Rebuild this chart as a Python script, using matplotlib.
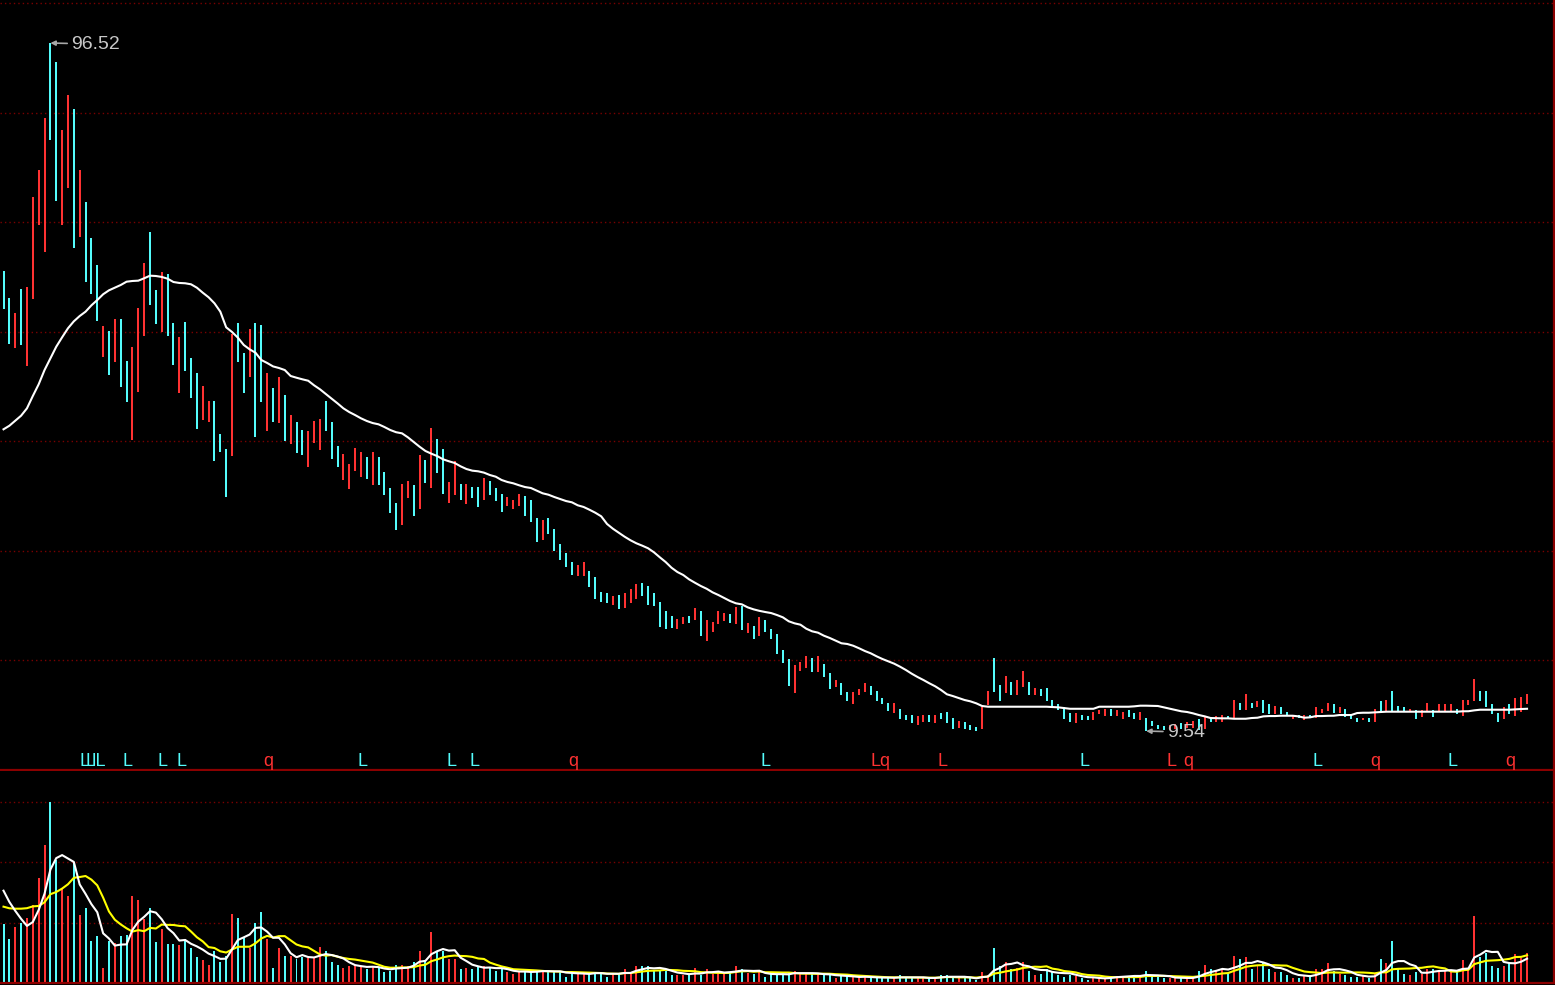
import numpy as np
import pandas as pd
import matplotlib
matplotlib.use("Agg")
import matplotlib.pyplot as plt
from matplotlib.transforms import blended_transform_factory

plt.rcParams['font.family'] = ['Liberation Sans', 'DejaVu Sans']

# ---------------- data ----------------
high = [
    67.70, 64.29, 62.39, 65.42, 65.68, 77.06, 80.47, 87.04, 96.52, 94.12,
    85.53, 89.95, 88.18, 80.47, 76.42, 71.87, 68.46, 60.75, 60.12, 61.63,
    61.63, 56.33, 58.09, 63.02, 68.71, 72.63, 65.30, 67.57, 67.32, 61.13,
    59.36, 61.25, 56.71, 54.81, 53.16, 51.27, 51.27, 47.09, 45.19, 59.74,
    61.13, 57.34, 60.37, 61.13, 60.87, 54.81, 52.91, 54.30, 52.02, 49.49,
    48.61, 47.60, 47.48, 48.74, 48.99, 51.27, 48.61, 45.57, 44.57, 43.30,
    45.32, 44.82, 44.19, 44.82, 44.19, 42.29, 40.27, 38.37, 40.77, 41.16,
    40.65, 44.44, 43.81, 47.85, 46.46, 45.19, 41.03, 43.68, 40.77, 40.77,
    40.39, 40.39, 41.53, 41.16, 40.27, 39.51, 39.13, 38.75, 39.51, 39.25,
    38.75, 36.47, 36.22, 36.47, 35.08, 33.19, 32.05, 30.91, 30.53, 30.91,
    29.77, 29.02, 27.12, 26.99, 26.61, 26.74, 26.99, 27.50, 28.13, 28.26,
    27.88, 26.99, 25.86, 24.72, 24.09, 23.71, 23.96, 24.09, 25.10, 24.72,
    23.58, 23.33, 24.72, 24.46, 24.34, 25.22, 25.35, 23.20, 22.82, 23.96,
    23.58, 22.44, 21.81, 19.79, 18.65, 17.89, 18.27, 19.03, 18.78, 19.03,
    18.02, 16.88, 15.99, 15.62, 14.48, 14.48, 14.86, 15.62, 15.23, 14.61,
    13.72, 13.09, 13.09, 12.33, 11.57, 11.57, 11.44, 11.57, 11.57, 11.57,
    11.82, 11.95, 11.19, 10.81, 10.68, 10.30, 10.05, 12.58, 14.61, 18.78,
    15.36, 16.50, 15.74, 15.99, 17.13, 15.74, 14.98, 14.86, 14.98, 13.47,
    12.96, 12.58, 11.82, 11.82, 11.57, 11.44, 11.95, 12.20, 12.33, 12.33,
    12.20, 11.95, 12.20, 11.82, 11.95, 11.19, 10.81, 10.30, 10.18, 10.30,
    10.43, 10.56, 10.68, 10.81, 11.06, 11.32, 11.19, 11.44, 11.57, 11.44,
    13.47, 13.09, 14.23, 13.09, 13.34, 13.47, 12.96, 12.71, 12.58, 11.95,
    11.44, 11.57, 11.57, 11.57, 12.58, 12.33, 13.09, 12.96, 12.58, 12.33,
    11.69, 11.19, 11.19, 11.19, 12.33, 13.34, 13.47, 14.61, 12.71, 12.58,
    12.33, 12.20, 12.20, 13.09, 12.20, 12.96, 12.96, 12.96, 12.33, 13.47,
    13.47, 16.12, 14.61, 14.61, 12.96, 11.82, 12.58, 12.96, 13.72, 13.85,
    14.23]

low = [
    62.90, 58.47, 57.97, 58.35, 55.69, 64.16, 73.52, 70.10, 84.26, 76.55,
    73.52, 78.19, 70.61, 72.00, 66.31, 64.79, 61.38, 56.83, 54.55, 56.20,
    53.03, 51.14, 46.34, 52.40, 59.48, 63.40, 61.00, 59.99, 59.48, 55.82,
    52.28, 55.06, 51.64, 47.73, 48.86, 48.61, 43.68, 44.82, 39.13, 44.31,
    56.20, 52.28, 54.30, 46.71, 51.14, 47.48, 48.61, 48.48, 46.21, 45.83,
    44.70, 44.44, 42.92, 45.96, 45.07, 47.48, 43.94, 42.92, 41.28, 40.14,
    42.42, 41.66, 41.41, 40.65, 40.65, 39.38, 37.11, 34.96, 35.59, 39.00,
    36.73, 37.61, 40.90, 40.27, 42.16, 39.51, 38.37, 39.38, 38.75, 38.24,
    39.00, 37.87, 38.75, 39.38, 38.62, 37.23, 37.99, 37.61, 37.99, 36.73,
    35.97, 33.44, 33.69, 34.45, 32.30, 31.17, 30.28, 29.27, 29.14, 29.14,
    27.75, 26.23, 25.86, 25.73, 25.48, 24.97, 25.10, 25.73, 26.23, 26.61,
    25.48, 25.35, 22.69, 22.44, 22.57, 22.44, 23.08, 23.20, 23.58, 21.56,
    20.92, 22.06, 23.08, 23.45, 23.20, 23.08, 22.32, 21.94, 21.18, 21.56,
    22.06, 21.18, 19.28, 18.14, 15.23, 14.35, 17.13, 17.51, 17.01, 17.01,
    16.37, 14.86, 15.11, 14.10, 13.34, 12.96, 14.10, 14.48, 14.10, 13.34,
    12.96, 12.08, 11.82, 11.06, 10.94, 10.56, 10.30, 10.68, 10.68, 10.56,
    11.06, 10.56, 9.80, 9.93, 9.80, 9.62, 9.60, 9.80, 12.83, 14.48,
    13.34, 14.35, 14.10, 14.10, 15.11, 14.10, 14.10, 13.97, 13.34, 12.71,
    12.20, 11.06, 10.68, 10.56, 10.94, 10.94, 10.94, 11.69, 11.44, 11.44,
    11.44, 11.06, 11.31, 11.06, 10.94, 9.54, 10.18, 9.80, 9.67, 9.67,
    9.80, 9.80, 9.93, 9.93, 9.67, 9.80, 10.68, 10.68, 10.68, 11.06,
    11.19, 12.20, 12.20, 12.45, 12.58, 11.82, 11.69, 11.69, 11.69, 11.44,
    11.06, 11.19, 10.94, 11.19, 11.19, 11.82, 12.08, 11.82, 11.82, 11.32,
    11.06, 10.68, 10.94, 10.68, 10.68, 11.95, 11.95, 12.08, 12.08, 12.08,
    11.95, 11.06, 11.32, 11.95, 11.32, 11.95, 11.95, 12.08, 11.69, 11.44,
    12.83, 13.34, 13.34, 12.58, 11.69, 10.68, 11.06, 11.69, 11.44, 11.95,
    12.96]

# 1 = rising bar (red), 0 = falling bar (cyan)
up = [
    0, 0, 1, 0, 1, 1, 1, 1, 0, 0,
    1, 1, 0, 1, 0, 0, 0, 1, 0, 1,
    0, 0, 1, 1, 1, 0, 0, 1, 0, 0,
    1, 0, 0, 0, 1, 1, 0, 0, 0, 1,
    0, 0, 1, 0, 0, 1, 0, 1, 0, 1,
    0, 0, 1, 1, 1, 0, 0, 0, 1, 1,
    1, 1, 0, 1, 0, 0, 0, 0, 1, 1,
    0, 1, 0, 1, 0, 0, 1, 1, 0, 1,
    0, 0, 1, 0, 0, 0, 1, 1, 1, 0,
    0, 0, 1, 0, 0, 0, 0, 0, 1, 1,
    0, 0, 0, 0, 1, 0, 1, 1, 1, 0,
    0, 0, 0, 0, 0, 1, 1, 0, 1, 0,
    1, 1, 1, 1, 0, 1, 0, 1, 0, 1,
    0, 0, 0, 0, 0, 1, 1, 1, 0, 1,
    0, 0, 1, 0, 0, 1, 1, 1, 0, 0,
    0, 0, 1, 0, 0, 0, 1, 1, 0, 1,
    0, 0, 0, 1, 0, 0, 0, 1, 1, 0,
    0, 1, 0, 1, 1, 0, 1, 0, 0, 0,
    0, 0, 0, 1, 0, 0, 1, 1, 1, 0,
    1, 1, 0, 0, 1, 0, 0, 0, 0, 1,
    1, 0, 1, 1, 0, 1, 0, 1, 1, 0,
    1, 0, 1, 0, 1, 0, 0, 1, 0, 0,
    1, 0, 1, 0, 1, 1, 1, 0, 1, 0,
    0, 0, 1, 0, 1, 0, 1, 0, 0, 0,
    1, 0, 1, 1, 0, 1, 1, 1, 0, 1,
    1, 1, 0, 0, 0, 0, 1, 0, 1, 1,
    1]

# price moving average (white line)
ma = [
    47.69, 48.14, 48.78, 49.41, 50.34, 51.90, 53.38, 55.18, 56.66, 58.13,
    59.32, 60.46, 61.34, 62.01, 62.56, 63.36, 64.03, 64.76, 65.26, 65.59,
    65.93, 66.35, 66.44, 66.48, 66.78, 67.11, 67.07, 66.95, 66.73, 66.31,
    66.19, 66.15, 66.02, 65.59, 64.96, 64.38, 63.62, 62.56, 60.58, 59.99,
    59.27, 58.35, 57.80, 57.37, 56.45, 56.07, 55.64, 55.44, 55.18, 54.43,
    54.21, 54.01, 53.83, 53.25, 52.75, 52.15, 51.56, 50.97, 50.34, 49.87,
    49.49, 49.08, 48.74, 48.48, 48.32, 47.98, 47.60, 47.32, 47.18, 46.68,
    46.08, 45.49, 44.95, 44.61, 44.31, 43.90, 43.65, 43.43, 43.01, 42.67,
    42.46, 42.38, 42.21, 41.91, 41.70, 41.28, 41.03, 40.86, 40.61, 40.39,
    40.27, 39.93, 39.60, 39.42, 39.13, 38.88, 38.62, 38.46, 38.08, 37.87,
    37.52, 37.14, 36.69, 35.72, 35.12, 34.62, 34.11, 33.66, 33.28, 32.98,
    32.65, 32.14, 31.51, 30.91, 30.19, 29.65, 29.27, 28.72, 28.29, 27.88,
    27.53, 27.08, 26.74, 26.36, 25.98, 25.69, 25.56, 25.18, 24.93, 24.74,
    24.59, 24.46, 24.21, 23.92, 23.42, 23.16, 22.99, 22.48, 22.15, 21.98,
    21.60, 21.31, 20.97, 20.64, 20.55, 20.33, 20.01, 19.66, 19.37, 18.99,
    18.65, 18.36, 18.06, 17.68, 17.26, 16.79, 16.37, 15.99, 15.58, 15.20,
    14.73, 14.19, 13.97, 13.72, 13.47, 13.30, 13.05, 12.71, 12.62, 12.62,
    12.62, 12.62, 12.62, 12.62, 12.62, 12.62, 12.62, 12.62, 12.62, 12.58,
    12.54, 12.45, 12.36, 12.36, 12.36, 12.36, 12.36, 12.62, 12.62, 12.62,
    12.62, 12.62, 12.62, 12.67, 12.75, 12.75, 12.73, 12.71, 12.54, 12.36,
    12.20, 12.04, 11.95, 11.78, 11.57, 11.40, 11.19, 11.17, 11.15, 11.15,
    11.10, 11.10, 11.10, 11.19, 11.23, 11.40, 11.44, 11.44, 11.48, 11.48,
    11.48, 11.40, 11.23, 11.28, 11.44, 11.44, 11.47, 11.48, 11.57, 11.57,
    11.57, 11.82, 11.86, 11.86, 11.91, 11.95, 11.99, 11.99, 11.99, 11.99,
    11.99, 11.99, 11.99, 11.99, 11.99, 11.99, 11.99, 11.99, 11.99, 12.04,
    12.05, 12.16, 12.24, 12.24, 12.24, 12.24, 12.24, 12.24, 12.29, 12.33,
    12.36]

# volume (arbitrary units) and a few bars before the visible window for the averages
vol_prev = [60, 60, 60, 60, 60, 100, 100, 100, 100]
vol = [
    59, 44, 56, 60, 65, 78, 104, 137, 180, 122,
    93, 87, 120, 68, 75, 42, 47, 15, 42, 40,
    47, 48, 87, 83, 64, 75, 41, 54, 39, 39,
    38, 44, 35, 26, 23, 18, 32, 21, 27, 69,
    65, 45, 35, 60, 71, 44, 15, 35, 27, 27,
    24, 26, 25, 25, 36, 32, 21, 18, 15, 17,
    18, 16, 14, 16, 15, 11, 12, 18, 18, 17,
    21, 32, 22, 51, 32, 32, 24, 24, 14, 15,
    14, 16, 17, 15, 12, 14, 11, 9, 11, 12,
    12, 12, 12, 11, 11, 12, 6, 10, 9, 10,
    10, 10, 10, 6, 10, 10, 14, 10, 17, 17,
    17, 12, 12, 12, 8, 8, 8, 8, 15, 8,
    14, 9, 11, 10, 10, 17, 14, 10, 9, 11,
    6, 9, 9, 9, 10, 12, 9, 9, 9, 9,
    8, 8, 5, 7, 7, 6, 5, 6, 6, 5,
    5, 5, 5, 8, 5, 5, 5, 5, 5, 5,
    8, 8, 5, 5, 5, 5, 3, 11, 8, 35,
    17, 21, 14, 15, 21, 12, 8, 9, 14, 12,
    8, 6, 8, 7, 5, 3, 5, 5, 5, 7,
    7, 7, 7, 7, 7, 12, 6, 6, 5, 5,
    5, 5, 5, 5, 12, 18, 14, 12, 14, 9,
    27, 24, 26, 14, 18, 20, 14, 11, 11, 8,
    5, 5, 8, 8, 14, 14, 20, 12, 9, 8,
    6, 6, 7, 5, 9, 24, 20, 42, 14, 9,
    8, 11, 9, 14, 14, 12, 12, 12, 11, 23,
    14, 67, 26, 30, 17, 15, 17, 20, 29, 25,
    30]

# signal letters under the price bars
sig_pos = [15.2, 21.2, 27.1, 30.3, 45.1, 61.2, 76.4, 80.4, 97.2, 130.1,
           149.7, 160.3, 184.4, 199.4, 202.1, 224.2, 234.1, 247.3, 257.1]
sig_text = ['ШL', 'L', 'L', 'L', 'q', 'L', 'L', 'L', 'q', 'L',
            'Lq', 'L', 'L', 'L', 'q', 'L', 'q', 'L', 'q']
sig_up = [0, 0, 0, 0, 1, 0, 0, 0, 1, 0,
          1, 1, 0, 1, 1, 0, 1, 0, 1]

# ---------------- styling ----------------
RED = '#ff3232'
CYAN = '#54fcfc'
DKRED = '#8b0000'
GRID = '#7a0000'

W, H = 1555, 985
fig = plt.figure(figsize=(W / 100, H / 100), dpi=100, facecolor='black')

ax = fig.add_axes([0, (H - 770) / H, 1554 / W, 770 / H], facecolor='black')
axv = fig.add_axes([0, (H - 983) / H, 1554 / W, (983 - 771) / H], facecolor='black')

n = len(high)
idx = np.arange(n)
cols = [RED if u else CYAN for u in up]

for a in (ax, axv):
    a.set_xlim(-0.6, 264.6)
    a.set_xticks([])
    a.set_yticks([])
    for s in ('top', 'left'):
        a.spines[s].set_visible(False)
    for s in ('bottom', 'right'):
        a.spines[s].set_color(DKRED)
        a.spines[s].set_linewidth(1.6)

ylo, yhi = 4.62, 101.96
ax.set_ylim(ylo, yhi)

# dotted grid (equal divisions of the price panel)
for k in range(1, 8):
    f = k * 109.5 / 770
    ax.axhline(ylo + (yhi - ylo) * f, color=GRID, lw=1.0, ls=(0, (1, 2.2)), zorder=0)

ax.vlines(idx, low, high, colors=cols, linewidth=1.45, zorder=2)
ax.plot(idx, ma, color='white', lw=1.5, zorder=3)

# high / low labels
lab_col = '#c8c8c8'
imax = int(np.argmax(high))
imin = int(np.argmin(low))
ax.annotate(f'{high[imax]:.2f}', xy=(imax, high[imax]), xytext=(21, -1),
            textcoords='offset pixels', color=lab_col, fontsize=14,
            ha='left', va='center', zorder=5,
            arrowprops=dict(arrowstyle='-|>', color='#a8a8a8', lw=1.2,
                            mutation_scale=7, shrinkA=1, shrinkB=0))
ax.annotate(f'{low[imin]:.2f}', xy=(imin, low[imin]), xytext=(21, -1),
            textcoords='offset pixels', color=lab_col, fontsize=14,
            ha='left', va='center', zorder=5,
            arrowprops=dict(arrowstyle='-|>', color='#a8a8a8', lw=1.2,
                            mutation_scale=7, shrinkA=1, shrinkB=0))

# signal letters
trans = blended_transform_factory(ax.transData, ax.transAxes)
for p, t, u in zip(sig_pos, sig_text, sig_up):
    ax.text(p, 4 / 770, t, transform=trans, color=RED if u else CYAN,
            fontsize=13, ha='center', va='baseline', zorder=4)

# volume panel
vmax = max(vol)
axv.set_ylim(0, vmax * 212 / 181)
for f in (1 / 3, 2 / 3, 1.0):
    axv.axhline(vmax * f, color=GRID, lw=1.0, ls=(0, (1, 2.2)), zorder=0)
axv.bar(idx, vol, width=0.34, color=cols, linewidth=0, zorder=2)

s = pd.Series(vol_prev + vol, dtype=float)
ma5 = s.rolling(5).mean().iloc[len(vol_prev):].to_numpy()
ma10 = s.rolling(10).mean().iloc[len(vol_prev):].to_numpy()
axv.plot(idx, ma10, color='#ffff00', lw=1.5, zorder=3)
axv.plot(idx, ma5, color='white', lw=1.5, zorder=4)

fig.savefig('out.png', dpi=100, facecolor='black')
